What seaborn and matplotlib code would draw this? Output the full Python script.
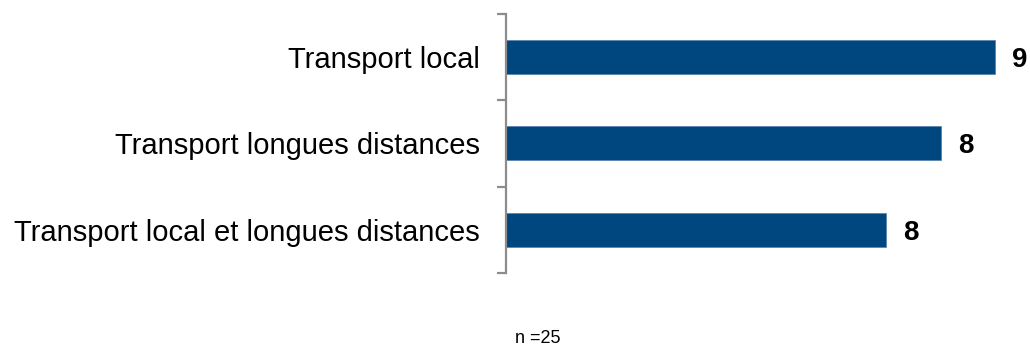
import matplotlib
matplotlib.use("Agg")
import matplotlib.pyplot as plt
import seaborn as sns
import pandas as pd
import numpy as np

categories = ["Transport local", "Transport longues distances", "Transport local et longues distances"]
values = [9.0, 8.45, 7.89]
note = "n =25"

sns.set_theme(style="white")
plt.rcParams['font.family'] = ['Liberation Sans', 'DejaVu Sans']

df = pd.DataFrame({"cat": categories, "val": values})

fig = plt.figure(figsize=(10.30, 3.48), dpi=100)
ax = fig.add_axes([505.7 / 1030, 1 - 273 / 348, 1 - 505.7 / 1030, (273 - 13.7) / 348])

sns.barplot(data=df, x="val", y="cat", orient="h", color="#00467F", saturation=1,
            width=0.393, ax=ax, edgecolor="#5b86b0", linewidth=0.6)

ax.set_xlim(4, 4 + (1030 - 505.7) / 97.8)
ax.set_ylim(len(categories) - 0.5, -0.5)

for s in ["top", "right", "bottom"]:
    ax.spines[s].set_visible(False)
ax.spines["left"].set_color("#8c8c8c")
ax.spines["left"].set_linewidth(1.6)

ax.set_xticks([])
ax.set_xlabel("")
ax.set_ylabel("")
ax.set_yticks(range(len(categories)))
ax.set_yticklabels(categories, fontsize=21, color="black")
ax.tick_params(axis="y", which="major", length=0, pad=18.5)
ax.set_yticks(np.arange(-0.5, len(categories), 1.0), minor=True)
ax.tick_params(axis="y", which="minor", length=6.3, width=1.6, color="#8c8c8c", left=True)

for cont in ax.containers:
    texts = ax.bar_label(cont, labels=[f"{v:.0f}" for v in values], padding=12.5, fontsize=20,
                         fontweight="bold", color="black")
    for t in texts:
        t.set_va("center_baseline")

fig.text(538 / 1030, 0.004, note, ha="center", va="bottom", fontsize=13, color="black")

fig.savefig("out.png", dpi=100)
